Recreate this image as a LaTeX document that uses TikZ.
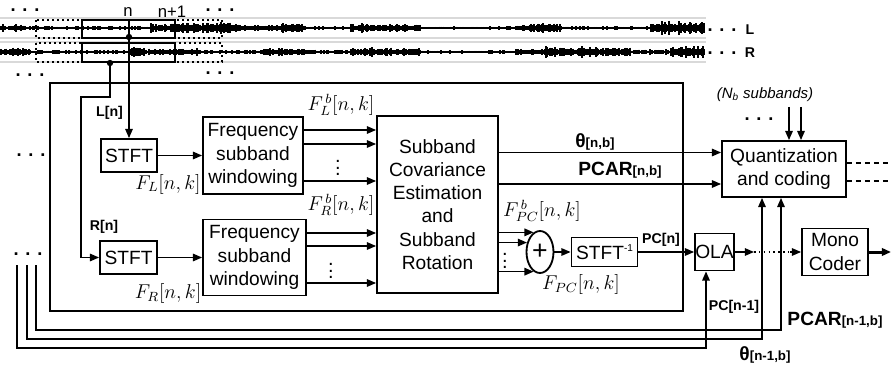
\documentclass[tikz,border=0pt]{standalone}
\usepackage{fontspec}
\setmainfont{Liberation Sans}
\usetikzlibrary{arrows.meta,shapes.geometric}

\tikzset{
  blk/.style={draw, line width=1.1pt, align=center, inner sep=0pt,
    font=\fontsize{11.5}{13.9}\selectfont},
  sz/.style 2 args={minimum width=#1*0.6pt, minimum height=#2*0.6pt},
  conn/.style={line width=0.9pt, -{Triangle[length=5.5pt,width=4.5pt]}},
  line/.style={line width=0.9pt},
  sig/.style={font=\fontsize{8.5}{10}\selectfont\bfseries, inner sep=1pt},
  mlbl/.style={font=\fontsize{12}{14}\selectfont, inner sep=0pt},
  dots/.style={font=\fontsize{11}{12}\selectfont\bfseries, inner sep=0pt, anchor=base},
  wave/.style={line width=0.85pt},
  track/.style={gray!30, line width=0.8pt},
}
\newcommand{\varlbl}[2]{{\fontsize{11.5}{12}\selectfont\bfseries #1}{\fontsize{8}{9}\selectfont\bfseries #2}}

\begin{document}
\begin{tikzpicture}[x=0.6pt, y=-0.6pt]
  \useasboundingbox (0,0) rectangle (891,371);

  % L / R waveforms
  \foreach \y in {18,38,42,62} \draw[track] (0,\y) -- (706,\y);
  \draw[line width=1.6pt] (0,28) -- (704,28);
  \draw[line width=1.6pt] (0,52) -- (704,52);
  \pgfmathsetseed{1234}
  \foreach \s/\e/\a in {0/25/4, 26/150/2.4, 151/178/5, 179/240/6.5, 241/280/4,
      281/305/6, 306/350/2.2, 351/420/5, 421/515/2, 516/560/5, 561/650/2.4, 651/704/7.5} {
    \foreach \x in {\s,...,\e} {
      \pgfmathsetmacro\h{\a*(0.35+0.65*rnd*rnd)}
      \draw[wave] (\x,28-\h) -- (\x,28+\h);
    }
  }
  \foreach \s/\e/\a in {0/30/5, 31/128/2.6, 129/140/8, 141/200/4, 201/260/2.4, 261/305/4.5,
      306/350/2.6, 351/420/5, 421/515/2, 516/545/4, 546/630/6, 631/670/3.2, 671/704/7} {
    \foreach \x in {\s,...,\e} {
      \pgfmathsetmacro\h{\a*(0.35+0.65*rnd*rnd)}
      \draw[wave] (\x,52-\h) -- (\x,52+\h);
    }
  }

  % analysis frames
  \draw[dotted, line width=1pt] (36,20) rectangle (222,38);
  \draw[dotted, line width=1pt] (36,43) rectangle (222,62);
  \draw[line width=1.1pt] (82,20) rectangle (175,38);
  \draw[line width=1.1pt] (82,43) rectangle (175,62);

  \node[font=\fontsize{10}{12}\selectfont] (lbln) at (128,12) {n};
  \node[font=\fontsize{10}{12}\selectfont] (lblnn) at (172,12) {n+1};
  \node[dots] (dotsTL) at (25,12) {. . .};
  \node[dots] (dotsTR) at (220,12) {. . .};
  \node[dots] (dotsBL) at (30,77) {. . .};
  \node[dots] (dotsBR) at (220,75) {. . .};
  \node[dots] (dotsL) at (722,32) {. . .};
  \node[dots] (dotsR) at (722,55) {. . .};
  \node[sig] (chL) at (750,30) {L};
  \node[sig] (chR) at (750,53) {R};

  % frame taps
  \coordinate (midn) at (129,20);
  \coordinate (tapL) at (129,37);
  \coordinate (tapR) at (110,63);
  \fill (tapL) circle (1.9pt);
  \fill (tapR) circle (1.9pt);

  % encoder frame
  \draw[line] (50,83) rectangle (683,311);

  % blocks
  \node[blk, sz={56}{33}] (stftL) at (129,155.5) {STFT};
  \node[blk, sz={57}{33}] (stftR) at (128.5,257.5) {STFT};
  \node[blk, sz={100}{77}] (freqL) at (253,155.5) {Frequency\\subband\\windowing};
  \node[blk, sz={103}{76}] (freqR) at (254.5,257.5) {Frequency\\subband\\windowing};
  \node[blk, sz={121}{177}] (sce) at (437.5,204.5)
    {Subband\\Covariance\\Estimation\\and\\Subband\\Rotation};
  \node[blk, sz={124}{56}] (quant) at (784,169) {Quantization\\and coding};
  \node[blk, ellipse, sz={27}{42}] (sum) at (540,252) {\fontsize{16}{16}\selectfont +};
  \node[blk, sz={66}{29}] (istft) at (604.5,252)
    {STFT\raisebox{0.45em}{\fontsize{6}{6}\selectfont -1}};
  \node[blk, sz={39}{37}] (ola) at (714.5,252) {OLA};
  \node[blk, sz={66}{47}] (mono) at (835,252) {Mono\\Coder};

  % input taps
  \draw[line] (midn) -- (tapL);
  \draw[conn] (tapL) -- (stftL);
  \draw[conn] (tapR) -- ++(0,34) -| ([xshift=-18*0.6pt]stftR.west) -- (stftR);
  \node[sig] (lblLn) at (109.5,113) {L[n]};
  \node[sig] (lblRn) at (104,227) {R[n]};

  % STFT -> subband windowing -> rotation
  \draw[conn] (stftL) -- (freqL);
  \draw[conn] (stftR) -- (freqR);
  \foreach \y in {130,144,181} \draw[conn] (freqL.east |- 0,\y) -- (sce.west |- 0,\y);
  \foreach \y in {233,246,283} \draw[conn] (freqR.east |- 0,\y) -- (sce.west |- 0,\y);
  \node[mlbl] (vdL) at (338,163) {$\vdots$};
  \node[mlbl] (vdR) at (331,266) {$\vdots$};
  \node[mlbl] (lFLb) at (341,105) {$F^{\,b}_{L}\big[n,k\big]$};
  \node[mlbl] (lFL) at (168,184) {$F_{L}\big[n,k\big]$};
  \node[mlbl] (lFRb) at (341,205) {$F^{\,b}_{R}\big[n,k\big]$};
  \node[mlbl] (lFR) at (168,293) {$F_{R}\big[n,k\big]$};

  % rotation parameters
  \draw[conn] (sce.east |- 0,152.5) -- (quant.west |- 0,152.5);
  \draw[conn] (sce.east |- 0,184) -- (quant.west |- 0,184);
  \node (lblTh) at (595,142) {\varlbl{θ}{[n,b]}};
  \node (lblPcar) at (620,170) {\varlbl{PCAR}{[n,b]}};

  % principal component path
  \foreach \a in {108,144,252} \draw[conn] (sce.east |- sum.\a) -- (sum.\a);
  \node[mlbl] (vdS) at (505,256) {$\vdots$};
  \node[mlbl] (lFPCb) at (542,211) {$F^{\,b}_{PC}\big[n,k\big]$};
  \node[mlbl] (lFPC) at (581,284) {$F_{PC}\big[n,k\big]$};
  \draw[conn] (sum) -- (istft);
  \draw[conn] (istft) -- (ola);
  \node[sig] (lblPCn) at (661,240) {PC[n]};
  \coordinate (olaOut) at (754,252);
  \coordinate (monoIn) at (790,252);
  \draw[conn] (ola) -- (olaOut);
  \draw[line, dotted] (olaOut) -- (monoIn);
  \draw[conn] (monoIn) -- (mono);
  \coordinate (monoOut) at (891,252);
  \draw[conn, line width=1.8pt] (mono) -- (monoOut);

  % coder outputs and side inputs
  \coordinate (qOutA) at (891,163);
  \coordinate (qOutB) at (891,181);
  \draw[line, dash pattern=on 3pt off 2.4pt] (quant.east |- qOutA) -- (qOutA);
  \draw[line, dash pattern=on 3pt off 2.4pt] (quant.east |- qOutB) -- (qOutB);
  \coordinate (nbA) at (789,107);
  \coordinate (nbB) at (801,107);
  \draw[conn] (nbA) -- (nbA |- quant.north);
  \draw[conn] (nbB) -- (nbB |- quant.north);
  \node[font=\fontsize{9}{10}\selectfont\itshape] (lblNb) at (765,95) {(N\textsubscript{b} subbands)};
  \node[dots] (dotsNb) at (759,120) {. . .};

  % previous frame feedback
  \node[dots] (dotsML) at (31,157) {. . .};
  \node[dots] (dotsLL) at (28,255) {. . .};
  \coordinate (fbA) at (17,265);
  \coordinate (fbB) at (27,265);
  \coordinate (fbC) at (36,265);
  \coordinate (olaFb) at (706,348);
  \coordinate (thFb) at (762,339);
  \coordinate (pcFb) at (781,330);
  \draw[conn] (fbA) |- (olaFb) -- (olaFb |- ola.south);
  \draw[conn] (fbB) |- (thFb) -- (thFb |- quant.south);
  \draw[conn] (fbC) |- (pcFb) -- (pcFb |- quant.south);
  \node[sig] (lblPCp) at (734,307) {PC[n-1]};
  \node (lblPcarP) at (835,320) {\varlbl{PCAR}{[n-1,b]}};
  \node (lblThP) at (765,355) {\varlbl{θ}{[n-1,b]}};
\end{tikzpicture}
\end{document}
